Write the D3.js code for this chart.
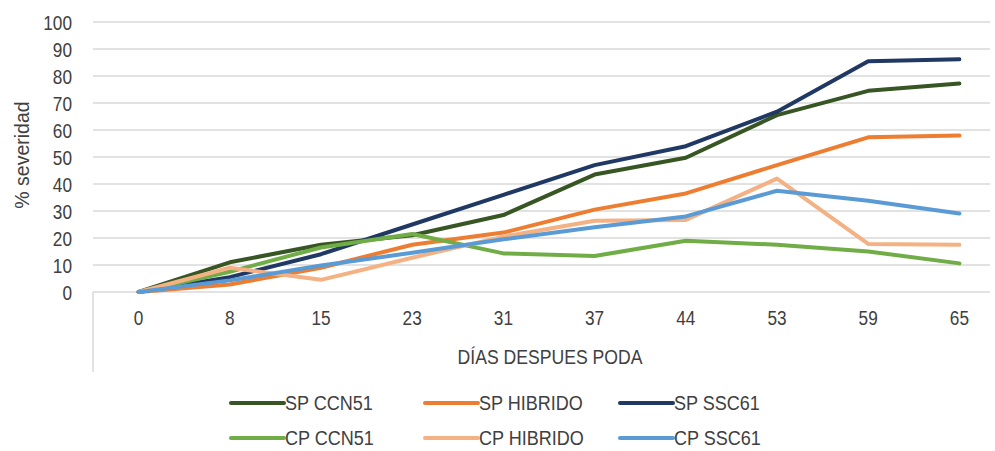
<!DOCTYPE html>
<html>
<head>
<meta charset="utf-8">
<script src="https://cdn.jsdelivr.net/npm/d3@7"></script>
<style>
  html, body { margin: 0; padding: 0; background: #ffffff; }
  svg { display: block; }
  text { font-family: "Liberation Sans", Arial, sans-serif; fill: #404040; }
</style>
</head>
<body>
<svg id="chart" width="995" height="451"></svg>
<script>
// Days after pruning (category axis)
const categories = ["0", "8", "15", "23", "31", "37", "44", "53", "59", "65"];

// Severity (%) per treatment
const spCCN51   = [0, 11, 17.5, 21, 28.5, 43.5, 49.7, 65.5, 74.5, 77.2];
const spHibrido = [0, 2.8, 9, 17.5, 22, 30.5, 36.5, 47, 57.3, 58];
const spSSC61   = [0, 5.5, 14, 25, 36, 47, 54, 66.8, 85.5, 86.2];
const cpCCN51   = [0, 7.5, 16.5, 21.5, 14.3, 13.3, 19, 17.5, 15, 10.6];
const cpHibrido = [0, 9, 4.5, 12.7, 20.5, 26.4, 26.7, 42, 17.8, 17.5];
const cpSSC61   = [0, 4.3, 9.8, 14.5, 19.5, 24, 28, 37.5, 33.8, 29.1];

const yTicks = [0, 10, 20, 30, 40, 50, 60, 70, 80, 90, 100];

const seriesNames  = ["SP CCN51", "SP HIBRIDO", "SP SSC61", "CP CCN51", "CP HIBRIDO", "CP SSC61"];
const seriesColors = ["#375623", "#ED7D31", "#203864", "#70AD47", "#F4B183", "#5B9BD5"];
const seriesValues = [spCCN51, spHibrido, spSSC61, cpCCN51, cpHibrido, cpSSC61];

const series = seriesNames.map((name, i) => ({
  name, color: seriesColors[i], values: seriesValues[i]
}));

const svg = d3.select("#chart");

const plot = { left: 93, right: 1005, top: 22, bottom: 292 };
const gridRight = 990;

const x = d3.scaleBand().domain(categories).range([plot.left, plot.right]);
const y = d3.scaleLinear().domain([0, 100]).range([plot.bottom, plot.top]);
const cx = c => x(c) + x.bandwidth() / 2;

// Horizontal gridlines
svg.append("g")
  .selectAll("line")
  .data(yTicks)
  .join("line")
  .attr("x1", plot.left).attr("x2", gridRight)
  .attr("y1", d => y(d)).attr("y2", d => y(d))
  .attr("stroke", "#d9d9d9").attr("stroke-width", 1.5);

// Category axis frame: left edge drops down below the tick labels
svg.append("line")
  .attr("x1", plot.left).attr("x2", plot.left)
  .attr("y1", plot.bottom).attr("y2", 372)
  .attr("stroke", "#d9d9d9").attr("stroke-width", 1.5);

// Y axis labels (condensed)
const yAxis = d3.axisLeft(y).tickValues(yTicks).tickSize(0).tickPadding(0);
const gy = svg.append("g").attr("transform", "translate(72,0)").call(yAxis);
gy.select(".domain").remove();
gy.selectAll("text")
  .attr("font-size", 20.5)
  .attr("font-family", "'Liberation Sans', Arial, sans-serif")
  .attr("fill", "#404040")
  .attr("transform", "scale(0.84,1)")
  .attr("x", 0)
  .attr("dy", "0.35em");

// X axis labels (condensed)
const xAxis = d3.axisBottom(x).tickSize(0).tickPadding(0);
const gx = svg.append("g").attr("transform", `translate(0,${plot.bottom})`).call(xAxis);
gx.select(".domain").remove();
gx.selectAll(".tick text")
  .attr("font-size", 20.5)
  .attr("font-family", "'Liberation Sans', Arial, sans-serif")
  .attr("fill", "#404040")
  .attr("y", 26)
  .attr("dy", "0.35em")
  .attr("transform", "scale(0.84,1)");

// Axis titles
svg.append("text")
  .attr("transform", "translate(550,357) scale(0.88,1)")
  .attr("text-anchor", "middle")
  .attr("dy", "0.35em")
  .attr("font-size", 20)
  .text("DÍAS DESPUES PODA");

svg.append("text")
  .attr("transform", "translate(22,155) rotate(-90)")
  .attr("text-anchor", "middle")
  .attr("dy", "0.35em")
  .attr("font-size", 19.5)
  .text("% severidad");

// Series lines
const line = d3.line()
  .x((d, i) => cx(categories[i]))
  .y(d => y(d));

svg.append("g")
  .selectAll("path")
  .data(series)
  .join("path")
  .attr("d", d => line(d.values))
  .attr("fill", "none")
  .attr("stroke", d => d.color)
  .attr("stroke-width", 4)
  .attr("stroke-linejoin", "round")
  .attr("stroke-linecap", "round");

// Legend: three columns, two rows
const legendCols = [231, 425, 620];
const legendRows = [403, 438];
const legend = svg.append("g")
  .selectAll("g")
  .data(series)
  .join("g")
  .attr("transform", (d, i) => `translate(${legendCols[i % 3]},${legendRows[Math.floor(i / 3)]})`);
legend.append("line")
  .attr("x1", 0).attr("x2", 53)
  .attr("y1", 0).attr("y2", 0)
  .attr("stroke", d => d.color)
  .attr("stroke-width", 4)
  .attr("stroke-linecap", "round");
legend.append("text")
  .attr("transform", "translate(54,0) scale(0.88,1)")
  .attr("dy", "0.35em")
  .attr("font-size", 20.5)
  .text(d => d.name);
</script>
</body>
</html>
